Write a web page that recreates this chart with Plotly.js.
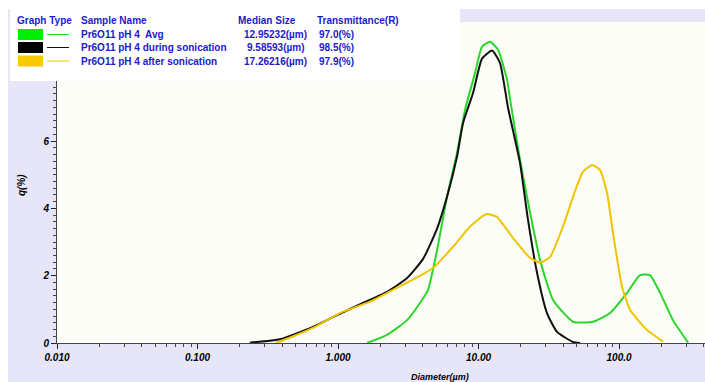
<!DOCTYPE html>
<html>
<head>
<meta charset="utf-8">
<script src="https://cdn.plot.ly/plotly-3.0.1.min.js"></script>
<style>html,body{margin:0;padding:0;background:#fff;}#chart{width:705px;height:382px;}</style>
</head>
<body>
<div id="chart"></div>
<script>
// ---- data (diameter in µm, q in %) ----
var avgDiameter = [1.61, 2.23, 3.10, 3.83, 4.37, 5.07, 5.97, 7.03, 8.01, 9.44, 10.59, 12.07, 13.8, 15.96, 16.76, 19.74, 23.3, 27.4, 33.9, 47.1, 65.3, 86.3, 114, 141, 166, 196, 242, 310];
var avgQ        = [0.00, 0.24, 0.68, 1.19, 1.58, 2.76, 4.35, 5.65, 6.92, 8.02, 8.81, 8.95, 8.71, 7.82, 7.25, 5.44, 3.86, 2.47, 1.28, 0.63, 0.63, 0.89, 1.49, 2.02, 2.02, 1.49, 0.68, 0.01];

var duringDiameter = [0.236, 0.386, 0.664, 0.984, 1.506, 2.23, 3.10, 4.03, 5.07, 5.97, 7.03, 7.76, 9.14, 10.59, 12.48, 14.22, 16.2, 19.74, 22.5, 26.1, 30.7, 36.2, 47.1, 52.8];
var duringQ        = [0.01, 0.11, 0.48, 0.83, 1.19, 1.52, 1.93, 2.50, 3.40, 4.35, 5.54, 6.54, 7.43, 8.45, 8.69, 8.32, 7.00, 5.35, 3.66, 2.08, 0.89, 0.33, 0.03, 0.00];

var afterDiameter = [0.357, 0.386, 0.664, 1.03, 1.69, 2.46, 3.65, 4.74, 6.59, 8.7, 10.77, 11.5, 13.5, 17.6, 23.3, 27.4, 32.3, 39.9, 47.1, 55.4, 64.3, 73.3, 82.2, 90.6, 105, 120, 158, 206];
var afterQ        = [0.00, 0.04, 0.45, 0.89, 1.23, 1.58, 1.95, 2.23, 2.86, 3.46, 3.78, 3.83, 3.75, 3.12, 2.53, 2.39, 2.56, 3.46, 4.35, 5.09, 5.29, 5.14, 4.46, 3.27, 1.67, 0.98, 0.39, 0.04];

var sampleNames    = ["Pr6O11 pH 4  Avg", "Pr6O11 pH 4 during sonication", "Pr6O11 pH 4 after sonication"];
var medianSizes    = ["12.95232(µm)", "9.58593(µm)", "17.26216(µm)"];
var transmittances = ["97.0(%)", "98.5(%)", "97.9(%)"];
var legendHeaders  = ["Graph Type", "Sample Name", "Median Size", "Transmittance(R)"];

var xTickVals  = [0.01, 0.1, 1, 10, 100];
var xTickText  = ["0.010", "0.100", "1.000", "10.00", "100.0"];
var yTickVals  = [0, 2, 4, 6];

// ---- styling ----
var lineColors   = ["#2ad62a", "#111111", "#f0c400"];
var swatchColors = ["#00ee00", "#000000", "#f8c800"];
var textBlue = "#1a1acc";
var W = 705, H = 382, L = 57, R = 0, T = 22, B = 39;
function px(x){ return (x - L) / (W - L - R); }
function py(y){ return (H - B - y) / (H - T - B); }

var minorX = [];
[0.01, 0.1, 1, 10, 100].forEach(function(d){ for (var k = 2; k <= 9; k++) minorX.push(d*k); });

var lineStyle = function(c){ return {color: c, width: 2, shape: "spline", smoothing: 0.5}; };
var traces = [
  {x: avgDiameter, y: avgQ, mode: "lines", line: lineStyle(lineColors[0]), name: sampleNames[0]},
  {x: duringDiameter, y: duringQ, mode: "lines", line: lineStyle(lineColors[1]), name: sampleNames[1]},
  {x: afterDiameter, y: afterQ, mode: "lines", line: lineStyle(lineColors[2]), name: sampleNames[2]}
];

var fontB = {family: "Liberation Sans, Arial, sans-serif", size: 10, color: textBlue, weight: "bold"};
var fontAx = {family: "Liberation Sans, Arial, sans-serif", size: 10, color: "#000", weight: "bold", style: "italic"};

var shapes = [
  {type: "rect", xref: "paper", yref: "paper", x0: px(8), x1: px(W), y0: py(H), y1: py(9), fillcolor: "#e6e6f8", line: {width: 0}, layer: "below"},
  {type: "rect", xref: "paper", yref: "paper", x0: px(L), x1: px(W), y0: py(H - B), y1: py(T), fillcolor: "#fdfdf8", line: {width: 0}, layer: "below"},
  {type: "rect", xref: "paper", yref: "paper", x0: px(10), x1: px(460), y0: py(81), y1: py(9), fillcolor: "#ffffff", line: {width: 0}, layer: "above"}
];
var annotations = [];
function ann(x, y, text, anchor, font){
  annotations.push({xref: "paper", yref: "paper", x: px(x), y: py(y), text: text, showarrow: false, xanchor: anchor, yanchor: "middle", borderpad: 0, font: font});
}
var headerX = [17, 81, 238, 317];
legendHeaders.forEach(function(h, i){ ann(headerX[i] - 1, 20, h, "left", fontB); });
var rowY = [34.5, 47.5, 61];
for (var i = 0; i < 3; i++) {
  var yc = rowY[i];
  shapes.push({type: "rect", xref: "paper", yref: "paper", x0: px(18), x1: px(43), y0: py(yc + 5.5), y1: py(yc - 5.5), fillcolor: swatchColors[i], line: {width: 0}, layer: "above"});
  shapes.push({type: "line", xref: "paper", yref: "paper", x0: px(47), x1: px(69), y0: py(yc), y1: py(yc), line: {color: lineColors[i], width: 1}, layer: "above"});
  ann(80, yc, sampleNames[i], "left", fontB);
  ann(275, yc, medianSizes[i], "center", fontB);
  ann(318, yc, transmittances[i], "left", fontB);
}
ann(440, 377, "Diameter(µm)", "center", {family: fontAx.family, size: 9, color: "#000", weight: "bold", style: "italic"});
annotations.push({xref: "paper", yref: "paper", x: px(22), y: py(185), text: "q(%)", textangle: -90, showarrow: false, xanchor: "center", yanchor: "middle", font: {family: fontAx.family, size: 10, color: "#000", weight: "bold", style: "italic"}});

var layout = {
  width: W, height: H,
  margin: {l: L, r: R, t: T, b: B, pad: 0},
  paper_bgcolor: "#ffffff",
  plot_bgcolor: "rgba(0,0,0,0)",
  showlegend: false,
  xaxis: {
    type: "log", range: [-2, Math.log10(409)], autorange: false,
    tickmode: "array", tickvals: xTickVals, ticktext: xTickText,
    ticks: "outside", ticklen: 5, tickcolor: "#222", tickwidth: 1,
    showline: true, linecolor: "#444", linewidth: 1, showgrid: false, zeroline: false,
    tickfont: fontAx,
    minor: {tickmode: "array", tickvals: minorX, ticks: "outside", ticklen: 3, tickcolor: "#444", showgrid: false}
  },
  yaxis: {
    range: [0, (H - T - B) / 33.65], autorange: false,
    tickmode: "array", tickvals: yTickVals,
    ticks: "outside", ticklen: 5, tickcolor: "#222", tickwidth: 1,
    showline: true, linecolor: "#444", linewidth: 1, showgrid: false, zeroline: false,
    tickfont: fontAx,
    minor: {dtick: 0.2, ticks: "outside", ticklen: 3, tickcolor: "#444", showgrid: false}
  },
  shapes: shapes,
  annotations: annotations
};
Plotly.newPlot("chart", traces, layout, {displayModeBar: false, staticPlot: true});
</script>
</body>
</html>
